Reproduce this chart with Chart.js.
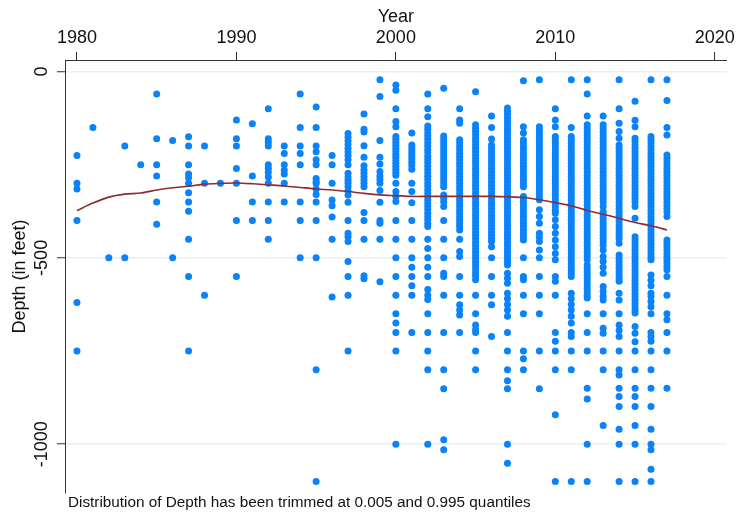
<!DOCTYPE html>
<html>
<head>
<meta charset="utf-8">
<script src="https://cdn.jsdelivr.net/npm/chart.js@4.4.1/dist/chart.umd.min.js"></script>
<style>
  html, body { margin: 0; padding: 0; background: #ffffff; }
  #wrap { width: 738px; height: 514px; }
</style>
</head>
<body>
<div id="wrap"><canvas id="c" width="738" height="514"></canvas></div>
<script>
// ---------------- DATA ----------------
const xTickLabels = [1980, 1990, 2000, 2010, 2020];
const yTickLabels = [0, -500, -1000];
const xAxisTitle = 'Year';
const yAxisTitle = 'Depth (in feet)';
const footNote = 'Distribution of Depth has been trimmed at 0.005 and 0.995 quantiles';

const years = [1980,1981,1982,1983,1984,1985,1986,1987,1988,1989,1990,1991,1992,1993,1994,1995,1996,1997,1998,1999,
               2000,2001,2002,2003,2004,2005,2006,2007,2008,2009,2010,2011,2012,2013,2014,2015,2016,2017];

const depths = [
  /*1980*/ [-225,-300,-315,-400,-620,-750],
  /*1981*/ [-150],
  /*1982*/ [-500],
  /*1983*/ [-200,-500],
  /*1984*/ [-250],
  /*1985*/ [-60,-180,-250,-280,-350,-410],
  /*1986*/ [-185,-500],
  /*1987*/ [-175,-200,-250,-275,-285,-300,-325,-350,-375,-450,-550,-750],
  /*1988*/ [-200,-300,-600],
  /*1989*/ [-300],
  /*1990*/ [-130,-180,-200,-260,-300,-400,-550],
  /*1991*/ [-140,-280,-350,-400],
  /*1992*/ [-100,-180,-190,-200,-250,-260,-270,-283,-300,-350,-400,-450],
  /*1993*/ [-200,-220,-250,-265,-275,-300,-350],
  /*1994*/ [-60,-150,-200,-220,-250,-350,-400,-500],
  /*1995*/ [-95,-150,-200,-215,-237,-250,-287,-295,-300,-315,-330,-350,-400,-500,-800,-1100],
  /*1996*/ [-225,-250,-300,-345,-360,-390,-450,-605],
  /*1997*/ [-166,-176,-186,-196,-206,-216,-226,-237,-250,-273,-283,-292,-300,-309,-320,-331,-351,-400,-434,-443,-456,-510,-550,-600,-750],
  /*1998*/ [-114,-155,-162,-199,-230,-253,-264,-273,-282,-291,-300,-309,-378,-400,-450,-548,-556],
  /*1999*/ [-22,-67,-185,-230,-248,-268,-280,-290,-300,-319,-351,-400,-407,-450,-564],
  /*2000*/ [-36,-50,-100,-134,-148,-174,-182,-190,-198,-206,-214,-222,-230,-238,-246,-254,-262,-270,-278,-300,-322,-335,-349,
            -400,-450,-500,-550,-600,-650,-675,-700,-750,-1000],
  /*2001*/ [-165,-197,-205,-213,-221,-229,-237,-245,-253,-262,-300,-322,-352,-400,-450,-500,-525,-550,-575,-600,-700],
  /*2002*/ [-60,-100,-121,-146,-155,-164,-173,-182,-191,-200,-209,-218,-227,-236,-245,-254,-263,-272,-281,-290,-299,-308,
            -317,-326,-335,-344,-353,-362,-371,-380,-389,-398,-407,-416,-450,-475,-500,-525,-550,-585,-600,-612,-650,-700,
            -750,-800,-1000],
  /*2003*/ [-45,-173,-181,-189,-197,-205,-213,-221,-229,-237,-245,-253,-261,-269,-277,-285,-293,-301,-309,-331,-340,-350,
            -362,-400,-450,-500,-541,-550,-600,-700,-800,-851,-988,-1015],
  /*2004*/ [-100,-130,-139,-183,-192,-201,-210,-219,-228,-237,-246,-255,-264,-273,-282,-291,-300,-309,-318,-327,-336,-345,
            -354,-363,-372,-381,-390,-399,-408,-416,-425,-450,-483,-496,-550,-600,-626,-640,-653,-700],
  /*2005*/ [-54,-143,-152,-161,-170,-179,-188,-197,-206,-215,-224,-233,-242,-251,-260,-269,-278,-287,-296,-305,-314,-323,
            -332,-341,-350,-359,-368,-377,-386,-395,-404,-413,-422,-431,-440,-449,-458,-467,-476,-485,-494,-503,-512,-521,
            -530,-539,-548,-559,-600,-650,-680,-693,-700,-750,-800],
  /*2006*/ [-119,-150,-181,-197,-206,-215,-224,-233,-242,-251,-260,-269,-278,-287,-296,-305,-314,-323,-332,-341,-350,-359,
            -368,-377,-386,-395,-404,-413,-422,-431,-440,-449,-456,-470,-500,-550,-600,-626,-711],
  /*2007*/ [-98,-107,-116,-125,-134,-143,-152,-161,-170,-179,-188,-197,-206,-215,-224,-233,-242,-251,-260,-269,-278,-287,
            -296,-305,-314,-323,-332,-341,-350,-359,-368,-377,-386,-395,-404,-413,-422,-431,-440,-449,-458,-467,-476,-485,
            -494,-503,-512,-519,-541,-555,-568,-595,-610,-625,-640,-657,-700,-750,-800,-830,-851,-1000,-1051],
  /*2008*/ [-25,-148,-165,-183,-192,-201,-210,-219,-228,-237,-246,-255,-264,-273,-282,-291,-300,-309,-335,-344,-353,-362,
            -371,-380,-389,-398,-407,-416,-425,-434,-443,-452,-500,-550,-559,-600,-650,-750,-771,-800],
  /*2009*/ [-22,-148,-157,-166,-175,-184,-193,-202,-211,-220,-229,-238,-247,-256,-265,-274,-283,-292,-301,-310,-319,-328,
            -337,-344,-371,-389,-407,-434,-445,-456,-479,-500,-550,-600,-650,-750,-851],
  /*2010*/ [-100,-130,-148,-174,-183,-192,-201,-210,-219,-228,-237,-246,-255,-264,-273,-282,-291,-300,-309,-318,-327,-336,
            -345,-354,-363,-372,-380,-398,-416,-434,-452,-470,-488,-505,-550,-563,-600,-700,-724,-750,-800,-921,-1100],
  /*2011*/ [-22,-150,-174,-183,-192,-201,-210,-219,-228,-237,-246,-255,-264,-273,-282,-291,-300,-309,-318,-327,-336,-345,
            -354,-363,-372,-381,-390,-399,-408,-417,-426,-435,-444,-453,-462,-471,-480,-489,-498,-507,-516,-525,-534,-541,
            -550,-595,-610,-625,-640,-657,-675,-700,-711,-750,-800,-1100],
  /*2012*/ [-22,-60,-119,-143,-152,-161,-170,-179,-188,-197,-206,-215,-224,-233,-242,-251,-260,-269,-278,-287,-296,-305,
            -314,-323,-332,-341,-350,-359,-368,-377,-386,-395,-404,-413,-422,-431,-440,-449,-458,-467,-476,-485,-494,-505,
            -519,-528,-537,-546,-555,-564,-573,-582,-591,-600,-608,-650,-700,-750,-850,-879,-1000,-1100],
  /*2013*/ [-119,-143,-152,-161,-170,-179,-188,-197,-206,-215,-224,-233,-242,-251,-260,-269,-278,-287,-296,-305,-314,-323,
            -332,-341,-350,-362,-376,-385,-394,-403,-412,-421,-430,-439,-448,-457,-466,-479,-496,-510,-525,-541,-577,-590,
            -603,-613,-650,-689,-702,-750,-800,-950],
  /*2014*/ [-22,-100,-139,-161,-179,-197,-206,-215,-224,-233,-242,-251,-260,-269,-278,-287,-296,-305,-314,-323,-332,-341,
            -350,-359,-368,-377,-386,-395,-404,-413,-422,-431,-440,-449,-461,-492,-501,-510,-519,-528,-537,-546,-555,-563,
            -595,-613,-650,-680,-695,-711,-750,-800,-814,-850,-872,-899,-960,-1000,-1100],
  /*2015*/ [-80,-131,-148,-179,-188,-197,-206,-215,-224,-233,-242,-251,-260,-269,-278,-287,-296,-305,-314,-323,-332,-341,
            -350,-362,-394,-443,-452,-461,-470,-479,-488,-497,-506,-515,-524,-533,-542,-551,-560,-569,-578,-587,-596,-605,
            -614,-623,-632,-641,-648,-684,-702,-725,-750,-800,-850,-872,-899,-950,-1000,-1100],
  /*2016*/ [-22,-174,-183,-192,-201,-210,-219,-228,-237,-246,-255,-264,-273,-282,-291,-300,-309,-318,-327,-336,-345,-354,
            -363,-372,-381,-390,-399,-408,-417,-426,-435,-444,-453,-462,-471,-480,-489,-498,-505,-546,-560,-575,-595,-604,
            -617,-631,-650,-700,-712,-724,-750,-800,-850,-899,-960,-1000,-1015,-1067,-1100],
  /*2017*/ [-22,-78,-150,-170,-224,-233,-242,-251,-260,-269,-278,-287,-296,-305,-314,-323,-332,-341,-350,-359,-368,-377,
            -389,-452,-461,-470,-479,-488,-497,-506,-515,-524,-532,-550,-600,-650,-666,-700,-750,-850]
];

// Smoothed (lowess) line
const lowessYears = [1980,1981,1982,1983,1984,1985,1986,1987,1988,1989,1990,1991,1992,1993,1994,1995,1996,1997,1998,1999,
                     2000,2001,2002,2003,2004,2005,2006,2007,2008,2009,2010,2011,2012,2013,2014,2015,2016,2017];
const lowessDepth = [-373,-353,-337,-329,-326,-318,-312,-308,-302,-300,-299,-301,-304,-307,-311,-315,-318,-322,-327,-331,
                     -333,-335,-335,-335,-335,-335,-335,-336,-338,-344,-352,-360,-373,-383,-394,-405,-414,-425];

// ---------------- BUILD ----------------
const scatterPts = [];
years.forEach((yr, i) => depths[i].forEach(d => scatterPts.push({ x: yr, y: d })));
const linePts = lowessYears.map((yr, i) => ({ x: yr, y: lowessDepth[i] }));

const FONT = "'Liberation Sans', Arial, Helvetica, sans-serif";
const TEXT = '#111111';
const AXIS = '#333333';
const GRID = 'rgb(232,240,243)';

const customText = {
  id: 'customText',
  afterDraw(chart) {
    const ctx = chart.ctx;
    const ys = chart.scales.y;
    ctx.save();
    ctx.fillStyle = TEXT;
    ctx.font = '18px ' + FONT;
    ctx.textAlign = 'center';
    ctx.textBaseline = 'middle';
    yTickLabels.forEach(v => {
      const py = ys.getPixelForValue(v);
      ctx.save();
      ctx.translate(42, py);
      ctx.rotate(-Math.PI / 2);
      ctx.fillText(String(v), 0, 0);
      ctx.restore();
    });
    ctx.font = '15.3px ' + FONT;
    ctx.textAlign = 'left';
    ctx.textBaseline = 'middle';
    ctx.fillText(footNote, 68, 503);
    ctx.restore();
  }
};

new Chart(document.getElementById('c'), {
  type: 'scatter',
  data: {
    datasets: [
      {
        type: 'line',
        label: 'lowess',
        data: linePts,
        borderColor: 'rgb(140,44,52)',
        borderWidth: 1.6,
        pointRadius: 0,
        tension: 0.3,
        fill: false,
        order: 0
      },
      {
        label: 'Depth',
        data: scatterPts,
        backgroundColor: 'rgb(10,130,250)',
        borderWidth: 0,
        pointRadius: 3.5,
        pointHoverRadius: 3.5,
        order: 1
      }
    ]
  },
  options: {
    responsive: false,
    animation: false,
    devicePixelRatio: 1,
    layout: { padding: { left: 0, right: 11, top: 0, bottom: 21 } },
    plugins: {
      legend: { display: false },
      tooltip: { enabled: false },
      title: { display: false }
    },
    scales: {
      x: {
        type: 'linear',
        position: 'top',
        min: 1979.25,
        max: 2020.75,
        afterBuildTicks: s => { s.ticks = xTickLabels.map(v => ({ value: v })); },
        afterFit: s => { s.height = 60; },
        ticks: {
          color: TEXT,
          font: { family: FONT, size: 18 },
          padding: 3,
          maxRotation: 0,
          minRotation: 0,
          callback: v => String(v)
        },
        grid: {
          drawOnChartArea: false,
          drawTicks: true,
          tickLength: 8,
          tickColor: AXIS,
          tickWidth: 1
        },
        border: { display: true, color: AXIS, width: 1 },
        title: {
          display: true,
          text: xAxisTitle,
          color: TEXT,
          font: { family: FONT, size: 18 },
          padding: { top: 6, bottom: 0 }
        }
      },
      y: {
        type: 'linear',
        position: 'left',
        min: -1131,
        max: 31,
        afterBuildTicks: s => { s.ticks = yTickLabels.map(v => ({ value: v })); },
        afterFit: s => { s.width = 65; },
        ticks: { display: false },
        grid: {
          drawOnChartArea: true,
          color: GRID,
          lineWidth: 1.5,
          drawTicks: true,
          tickLength: 8,
          tickColor: AXIS,
          tickWidth: 1
        },
        border: { display: true, color: AXIS, width: 1 },
        title: {
          display: true,
          text: yAxisTitle,
          color: TEXT,
          font: { family: FONT, size: 18 },
          padding: { top: 9, bottom: 0 }
        }
      }
    }
  },
  plugins: [customText]
});
</script>
</body>
</html>
